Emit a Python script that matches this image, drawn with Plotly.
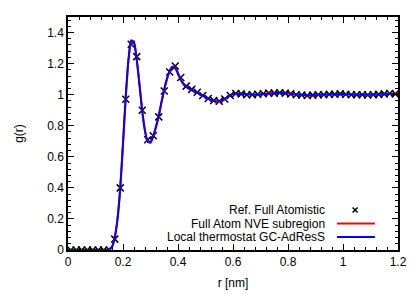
import plotly.graph_objects as go

# Reference (markers)
r_ref = [0.01, 0.03, 0.05, 0.07, 0.09, 0.11, 0.13, 0.15, 0.17, 0.19,
         0.21, 0.23, 0.25, 0.27, 0.29, 0.31, 0.33, 0.35, 0.37, 0.39,
         0.41, 0.43, 0.45, 0.47, 0.49, 0.51, 0.53, 0.55, 0.57, 0.59,
         0.61, 0.63, 0.65, 0.67, 0.69, 0.71, 0.73, 0.75, 0.77, 0.79,
         0.81, 0.83, 0.85, 0.87, 0.89, 0.91, 0.93, 0.95, 0.97, 0.99,
         1.01, 1.03, 1.05, 1.07, 1.09, 1.11, 1.13, 1.15, 1.17, 1.19]
g_ref = [0, 0, 0, 0, 0, 0, 0, 0, 0.07, 0.40,
         0.97, 1.325, 1.245, 0.90, 0.71, 0.735, 0.857, 1.023, 1.146, 1.185,
         1.11, 1.055, 1.034, 1.016, 0.995, 0.975, 0.962, 0.958, 0.972, 0.995,
         1.008, 1.005, 1.0, 1.0, 1.003, 1.006, 1.01, 1.01, 1.012, 1.01,
         1.005, 1.0, 0.998, 0.995, 0.997, 1.0, 1.0, 1.003, 1.003, 1.005,
         1.003, 1.0, 1.0, 1.0, 0.998, 1.0, 1.002, 1.005, 1.008, 1.005]

# Lines
r_line = [0.0, 0.04, 0.08, 0.12, 0.14, 0.15, 0.16, 0.17, 0.18, 0.19,
          0.20, 0.21, 0.22, 0.23, 0.24, 0.25, 0.26, 0.27, 0.28, 0.29,
          0.30, 0.31, 0.32, 0.33, 0.34, 0.35, 0.36, 0.37, 0.38, 0.39,
          0.40, 0.41, 0.42, 0.43, 0.44, 0.45, 0.46, 0.47, 0.48, 0.50,
          0.52, 0.54, 0.56, 0.58, 0.60, 0.64, 0.68, 0.72, 0.76, 0.80,
          0.84, 0.88, 0.92, 0.96, 1.00, 1.04, 1.08, 1.12, 1.16, 1.20]
g_nve = [0, 0, 0, 0, 0.0, 0.005, 0.02, 0.08, 0.20, 0.40,
         0.68, 0.98, 1.22, 1.34, 1.335, 1.23, 1.07, 0.90, 0.77, 0.70,
         0.69, 0.73, 0.79, 0.86, 0.95, 1.03, 1.10, 1.15, 1.18, 1.175,
         1.14, 1.10, 1.07, 1.05, 1.04, 1.03, 1.02, 1.015, 1.005, 0.985,
         0.965, 0.955, 0.962, 0.985, 1.005, 1.005, 1.0, 1.006, 1.01, 1.01,
         1.0, 0.996, 1.0, 1.003, 1.005, 1.0, 1.0, 1.0, 1.005, 1.005]
g_gc = [0, 0, 0, 0, 0.0, 0.005, 0.02, 0.08, 0.20, 0.40,
        0.69, 0.99, 1.23, 1.35, 1.335, 1.22, 1.06, 0.89, 0.765, 0.695,
        0.695, 0.735, 0.795, 0.865, 0.955, 1.035, 1.105, 1.155, 1.18, 1.17,
        1.135, 1.095, 1.068, 1.05, 1.04, 1.03, 1.02, 1.013, 1.003, 0.985,
        0.966, 0.957, 0.963, 0.985, 1.004, 1.004, 1.0, 1.005, 1.01, 1.009,
        1.0, 0.997, 1.0, 1.003, 1.004, 1.0, 1.0, 1.001, 1.005, 1.004]

names = ["Ref. Full Atomistic", "Full Atom NVE subregion", "Local thermostat GC-AdResS"]

FONT = "Liberation Sans, Arial, Helvetica, sans-serif"

fig = go.Figure()
fig.add_trace(go.Scatter(x=r_ref, y=g_ref, mode="markers", name=names[0],
                         marker=dict(symbol="x-thin", size=7, color="black",
                                     line=dict(color="black", width=1.5)),
                         showlegend=False))
fig.add_trace(go.Scatter(x=r_line, y=g_nve, mode="lines", name=names[1],
                         line=dict(color="#ff0000", width=2, shape="spline", smoothing=0.6),
                         showlegend=False))
fig.add_trace(go.Scatter(x=r_line, y=g_gc, mode="lines", name=names[2],
                         line=dict(color="#0000ff", width=2, shape="spline", smoothing=0.6),
                         showlegend=False))

axis_common = dict(showline=True, linecolor="black", linewidth=1.5, mirror="allticks",
                   ticks="inside", ticklen=6, tickwidth=1, tickcolor="black",
                   showgrid=False, zeroline=False, automargin=False,
                   tickfont=dict(family=FONT, size=12, color="black"),
                   minor=dict(ticks="inside", ticklen=3, tickwidth=1, tickcolor="black", dtick=0.04))

fig.update_xaxes(range=[0, 1.2], tick0=0, dtick=0.2,
                 title=dict(text="r [nm]", font=dict(family=FONT, size=12, color="black"), standoff=10),
                 **axis_common)
fig.update_yaxes(range=[0, 1.5], tick0=0, dtick=0.2,
                 title=dict(text="g(r)", font=dict(family=FONT, size=12, color="black"), standoff=21),
                 **axis_common)

# manual gnuplot-style legend (text right-aligned, sample on the right)
rows_y = [0.1717, 0.1137, 0.0558]
for nm, yy in zip(names, rows_y):
    fig.add_annotation(x=0.786, y=yy, xref="paper", yref="paper", text=nm, showarrow=False,
                       xanchor="right", yanchor="middle",
                       font=dict(family=FONT, size=12, color="black"))
dx, dy = 2.5 / 330, 2.5 / 233
cx, cy = 0.870, rows_y[0]
fig.add_shape(type="path", xref="paper", yref="paper",
              path=f"M {cx-dx} {cy-dy} L {cx+dx} {cy+dy} M {cx-dx} {cy+dy} L {cx+dx} {cy-dy}",
              line=dict(color="black", width=1.5))
fig.add_shape(type="line", xref="paper", yref="paper", x0=0.815, x1=0.930, y0=rows_y[1], y1=rows_y[1],
              line=dict(color="#ff0000", width=2))
fig.add_shape(type="line", xref="paper", yref="paper", x0=0.815, x1=0.930, y0=rows_y[2], y1=rows_y[2],
              line=dict(color="#0000ff", width=2))

fig.update_layout(width=415, height=294, margin=dict(l=68, r=17, t=17, b=44),
                  plot_bgcolor="white", paper_bgcolor="white",
                  font=dict(family=FONT, size=12, color="black"))

fig.write_html("out.html", config={"displayModeBar": False},
               post_script="document.body.style.margin='0';document.body.style.overflow='hidden';")
